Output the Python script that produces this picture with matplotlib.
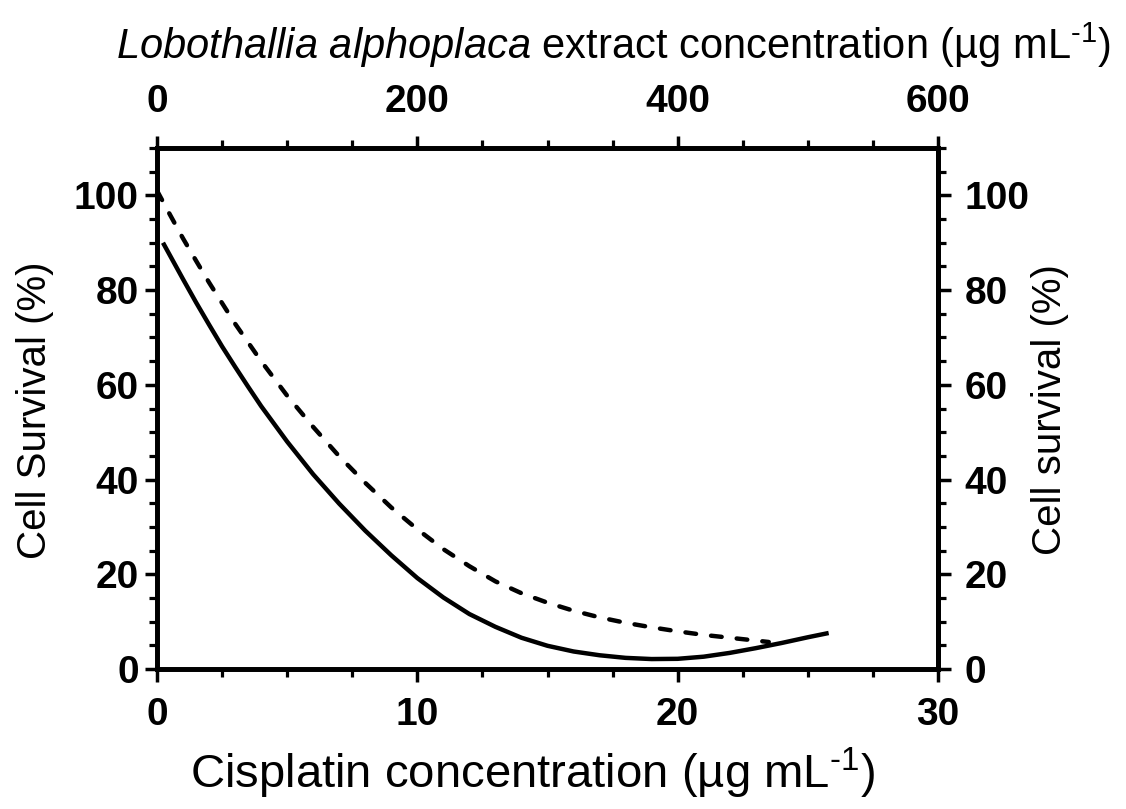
import numpy as np
import matplotlib
matplotlib.use("Agg")
import matplotlib.pyplot as plt
from matplotlib.ticker import MultipleLocator

plt.rcParams["font.family"] = ["Liberation Sans", "DejaVu Sans"]
plt.rcParams["mathtext.fontset"] = "custom"
plt.rcParams["mathtext.rm"] = "Liberation Sans"
plt.rcParams["mathtext.it"] = "Liberation Sans:italic"

# cisplatin curve (bottom axis, ug/mL) -> cell survival (%)
cis_conc = [0.23, 0.5, 1, 1.5, 2, 2.5, 3, 3.5, 4, 5, 6, 7, 8, 9, 10, 11, 12, 13,
            14, 15, 16, 17, 18, 19, 20, 21, 22, 23, 24, 25, 25.8]
cis_surv = [90, 87.3, 82.3, 77.4, 72.7, 68.1, 63.8, 59.6, 55.5, 48.0, 41.1, 34.9,
            29.2, 24.0, 19.2, 15.1, 11.6, 8.9, 6.6, 4.9, 3.7, 2.9, 2.35, 2.1, 2.15,
            2.6, 3.4, 4.4, 5.5, 6.7, 7.6]

# lichen extract curve (top axis, ug/mL) -> cell survival (%)
ext_conc = [0, 10, 20, 30, 40, 60, 80, 100, 120, 140, 160, 180, 200, 220, 240,
            260, 280, 300, 320, 340, 360, 380, 400, 420, 440, 460, 470]
ext_surv = [101, 95.9, 90.9, 86.2, 81.6, 72.9, 65.0, 57.7, 51.1, 44.9, 39.3, 34.1,
            29.5, 25.3, 21.7, 18.5, 16.0, 14.0, 12.3, 10.9, 9.75, 8.8, 7.95, 7.2,
            6.6, 6.0, 5.7]

W, H = 1126, 809
fig = plt.figure(figsize=(W / 100, H / 100), dpi=100)
ax = fig.add_axes([157 / W, 1 - 669 / H, (938 - 157) / W, (669 - 148) / H])

spine_lw = 3.4
curve_lw = 3.2

ax.plot(cis_conc, cis_surv, color="black", lw=curve_lw, solid_capstyle="butt")
ax.set_xlim(0, 30)
ax.set_ylim(0, 110)
ax.xaxis.set_major_locator(MultipleLocator(10))
ax.xaxis.set_minor_locator(MultipleLocator(2.5))
ax.yaxis.set_major_locator(MultipleLocator(20))
ax.yaxis.set_minor_locator(MultipleLocator(5))

ax_top = ax.twiny()
ax_top.plot(ext_conc, ext_surv, color="black", lw=curve_lw, dashes=(2.4, 3.4),
            dash_capstyle="round")
ax_top.set_xlim(0, 600)
ax_top.xaxis.set_major_locator(MultipleLocator(200))
ax_top.xaxis.set_minor_locator(MultipleLocator(50))

ax_right = ax.secondary_yaxis("right")
ax_right.yaxis.set_major_locator(MultipleLocator(20))
ax_right.yaxis.set_minor_locator(MultipleLocator(5))

for a in (ax, ax_top):
    for s in a.spines.values():
        s.set_linewidth(spine_lw)
ax_right.spines["right"].set_linewidth(spine_lw)

ax.tick_params(axis="x", which="major", direction="out", length=9, width=2.5, pad=11)
ax.tick_params(axis="x", which="minor", direction="out", length=5.5, width=2.3)
ax.tick_params(axis="y", which="major", direction="out", length=9, width=2.5, pad=4)
ax.tick_params(axis="y", which="minor", direction="out", length=5.5, width=2.3)
ax_top.tick_params(axis="x", which="major", direction="out", length=9, width=2.5, pad=11)
ax_top.tick_params(axis="x", which="minor", direction="out", length=5.5, width=2.3)
ax_right.tick_params(axis="y", which="major", direction="out", length=9, width=2.5, pad=10)
ax_right.tick_params(axis="y", which="minor", direction="out", length=5.5, width=2.3)

for a in (ax, ax_top, ax_right):
    for lab in a.get_xticklabels() + a.get_yticklabels():
        lab.set_fontsize(28)
        lab.set_fontweight("bold")

fig.text(532 / W, 1 - 773 / H, "Cisplatin concentration (µg mL$^{\\text{-1}}$)",
         fontsize=34, ha="center", va="center")
fig.text(613 / W, 1 - 45 / H,
         "$\\it{Lobothallia\\ alphoplaca}$ extract concentration (µg mL$^{\\text{-1}}$)",
         fontsize=30, ha="center", va="center")
fig.text(35 / W, 1 - 410 / H, "Cell Survival (%)", fontsize=29, rotation=90,
         ha="center", va="center")
fig.text(1050 / W, 1 - 410 / H, "Cell survival (%)", fontsize=29, rotation=90,
         ha="center", va="center")

fig.savefig("out.png", dpi=100)
